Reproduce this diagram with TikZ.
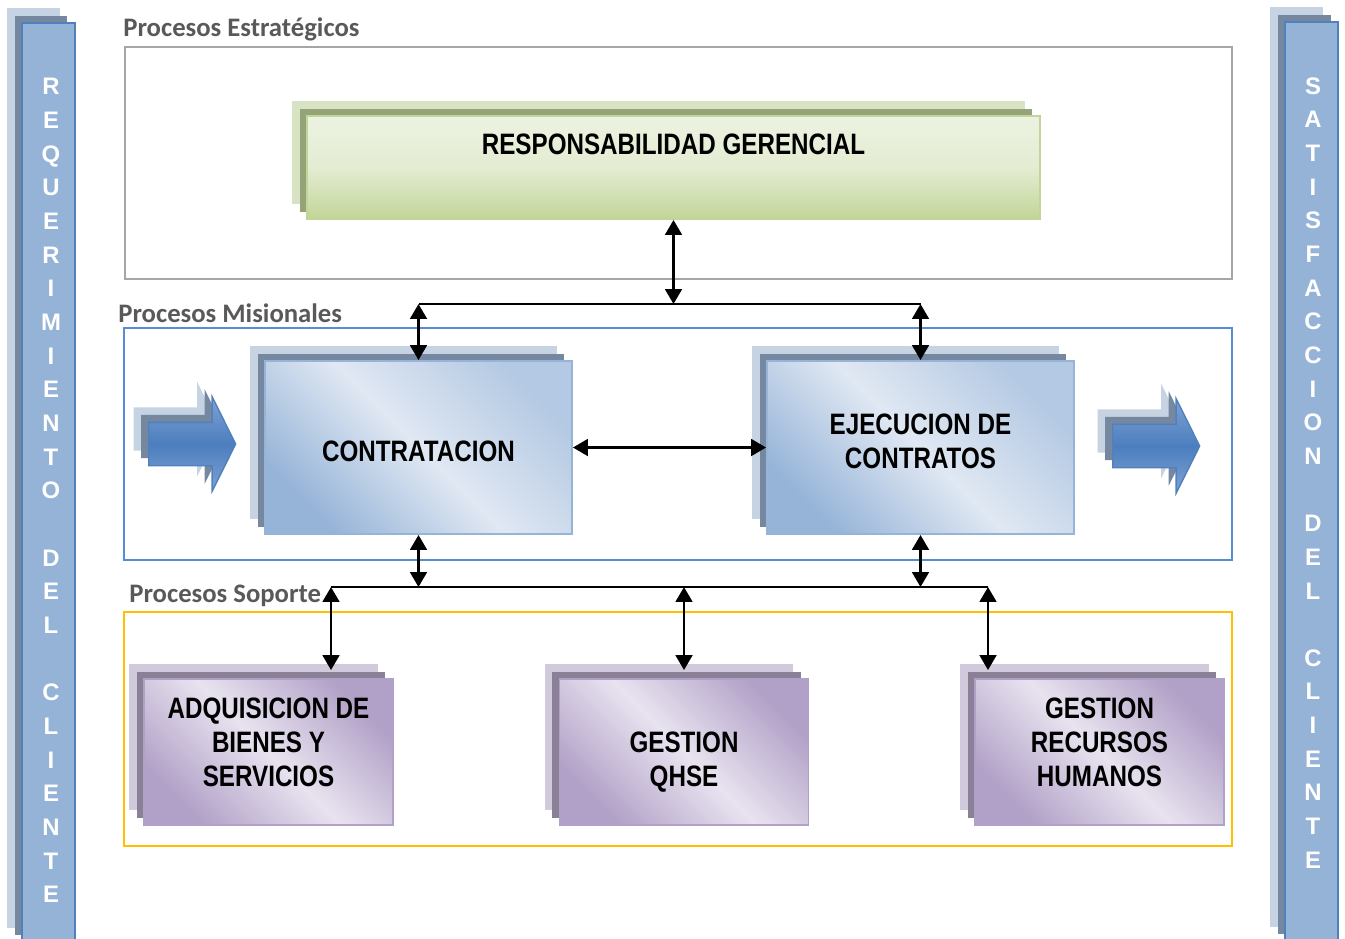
\documentclass[tikz,border=0pt]{standalone}
\usepackage{fontspec}
\setmainfont{Liberation Sans}
\newfontfamily\boxfont[FakeStretch=0.82]{Liberation Sans}
\newfontfamily\titlefont{Carlito}
\usetikzlibrary{shapes, arrows.meta, positioning, shadows, calc}
\definecolor{BarFill}{RGB}{149,179,215}
\definecolor{BarLine}{RGB}{79,129,189}
\definecolor{BlueLight}{RGB}{198,211,226}
\definecolor{BlueDark}{RGB}{118,135,160}
\definecolor{BlueTop}{RGB}{224,232,243}
\definecolor{BlueBottom}{RGB}{150,180,216}
\definecolor{GreenLight}{RGB}{216,227,196}
\definecolor{GreenDark}{RGB}{149,163,121}
\definecolor{GreenTop}{RGB}{236,242,225}
\definecolor{GreenBottom}{RGB}{194,213,152}
\definecolor{PurpleLight}{RGB}{209,202,221}
\definecolor{PurpleDark}{RGB}{139,129,151}
\definecolor{PurpleTop}{RGB}{232,227,239}
\definecolor{PurpleBottom}{RGB}{177,160,199}
\definecolor{ArrowMid}{RGB}{76,126,191}
\definecolor{ArrowEdge}{RGB}{128,162,210}
\definecolor{TitleGray}{RGB}{89,89,89}
\definecolor{FrameGray}{RGB}{166,166,166}
\definecolor{FrameBlue}{RGB}{85,142,213}
\definecolor{FrameGold}{RGB}{255,192,0}

\tikzset{
  layers/.style 2 args={copy shadow={shadow xshift=-0.3cm, shadow yshift=0.3cm, fill=#1, draw=none},
                        copy shadow={shadow xshift=-0.15cm, shadow yshift=0.15cm, fill=#2, draw=none}},
  procbox/.style={rectangle, inner sep=0, align=center, line width=1.1pt,
                  font=\boxfont\bfseries\fontsize{16.8}{19.3}\selectfont},
  greenbox/.style={procbox, layers={GreenLight}{GreenDark}, draw=GreenBottom,
                   top color=GreenTop, bottom color=GreenBottom, middle color=GreenTop!80!GreenBottom},
  bluebox/.style={procbox, layers={BlueLight}{BlueDark}, draw=BlueBottom,
                  minimum width=6.14cm, minimum height=3.46cm,
                  top color=BlueBottom!60!BlueTop, bottom color=BlueBottom, middle color=BlueTop, shading angle=-45},
  purplebox/.style={procbox, layers={PurpleLight}{PurpleDark}, draw=PurpleBottom,
                    minimum width=4.98cm, minimum height=2.92cm,
                    top color=PurpleBottom, bottom color=PurpleBottom, middle color=PurpleTop, shading angle=-45},
  bar/.style={rectangle, layers={BlueLight}{BlueDark}, fill=BarFill, draw=BarLine, line width=1.1pt,
              minimum width=1.06cm, minimum height=18.4cm},
  bartext/.style={inner sep=0, align=center, text=white, font=\bfseries\fontsize{13.6}{19.16}\selectfont},
  fatarrow/.style={single arrow, single arrow head extend=0.51cm, single arrow tip angle=127,
                   minimum height=1.74cm, minimum width=1.86cm, inner xsep=0, inner ysep=0.42cm,
                   draw=BarLine, line width=0.8pt,
                   top color=ArrowEdge, bottom color=ArrowEdge, middle color=ArrowMid, layers={BlueLight}{BlueDark}},
  frame/.style={rectangle, inner sep=0, line width=1.1pt},
  ttl/.style={inner sep=0, anchor=base west, text=TitleGray, font=\titlefont\bfseries\fontsize{15.2}{18}\selectfont},
  conn/.style={line width=1.5pt, >={Triangle[length=8.5pt, width=9.5pt]}, <->},
  bus/.style={line width=1.1pt}
}

\begin{document}
\begin{tikzpicture}[x=0.02cm, y=-0.02cm]
  \useasboundingbox (0,0) rectangle (1345,938);

  % side bars
  \node[bar] (barL) at (48.5,483) {};
  \node[bartext, anchor=north] (reqTxt) at (51,78)
    {R\\E\\Q\\U\\E\\R\\I\\M\\I\\E\\N\\T\\O\\~\\D\\E\\L\\~\\C\\L\\I\\E\\N\\T\\E};
  \node[bar] (barR) at (1311.5,482) {};
  \node[bartext, anchor=north] (satTxt) at (1313,77)
    {S\\A\\T\\I\\S\\F\\A\\C\\C\\I\\O\\N\\~\\D\\E\\L\\~\\C\\L\\I\\E\\N\\T\\E};

  % frames
  \node[frame, draw=FrameGray, minimum width=22.14cm, minimum height=4.64cm] (fEst) at (678.5,163) {};
  \node[ttl] (tEst) at (123,36) {Procesos Estratégicos};
  \node[frame, draw=FrameBlue, minimum width=22.16cm, minimum height=4.64cm] (fMis) at (678,444) {};
  \node[ttl] (tMis) at (118,322) {Procesos Misionales};
  \node[frame, draw=FrameGold, minimum width=22.16cm, minimum height=4.68cm] (fSop) at (678,729) {};
  \node[ttl] (tSop) at (129,602) {Procesos Soporte};

  % process boxes (text height / depth place the text as in the original)
  \node[greenbox, minimum width=14.66cm, text height=0.76cm, text depth=1.3cm] (resp) at (673.5,167.5)
    {RESPONSABILIDAD GERENCIAL};
  \node[bluebox, text height=2.01cm, text depth=1.45cm] (contr) at (418.5,447.5) {CONTRATACION};
  \node[bluebox, text height=2.15cm, text depth=1.31cm] (ejec) at (920.5,447.5) {EJECUCION DE\\CONTRATOS};
  \node[purplebox, text height=2.15cm, text depth=0.77cm] (adq) at (268.5,752) {ADQUISICION DE\\BIENES Y\\SERVICIOS};
  \node[purplebox, text height=2.15cm, text depth=0.77cm] (qhse) at (684,752) {GESTION\\QHSE};
  \node[purplebox, text height=2.15cm, text depth=0.77cm] (rrhh) at (1099.5,752) {GESTION\\RECURSOS\\HUMANOS};

  % in / out arrows
  \node[fatarrow, anchor=tail] (inArrow) at (148,444) {};
  \node[fatarrow, anchor=tail] (outArrow) at (1112,446) {};

  % connectors
  \coordinate (busTop) at (674,304);
  \coordinate (s1) at (331,587);
  \coordinate (s2) at (684,587);
  \coordinate (s3) at (988,587);
  \draw[bus] (contr.north |- busTop) -- (ejec.north |- busTop);
  \draw[conn] (resp.south) -- (resp.south |- busTop);
  \draw[conn] (contr.north |- busTop) -- (contr.north);
  \draw[conn] (ejec.north |- busTop) -- (ejec.north);
  \draw[conn] (contr.east) -- (ejec.west);
  \draw[bus] (s1) -- (s3);
  \draw[conn] (contr.south) -- (contr.south |- s1);
  \draw[conn] (ejec.south) -- (ejec.south |- s1);
  \draw[conn, shorten >=0.16cm] (s1) -- (s1 |- adq.north);
  \draw[conn, shorten >=0.16cm] (s2) -- (s2 |- qhse.north);
  \draw[conn, shorten >=0.16cm] (s3) -- (s3 |- rrhh.north);
\end{tikzpicture}
\end{document}
